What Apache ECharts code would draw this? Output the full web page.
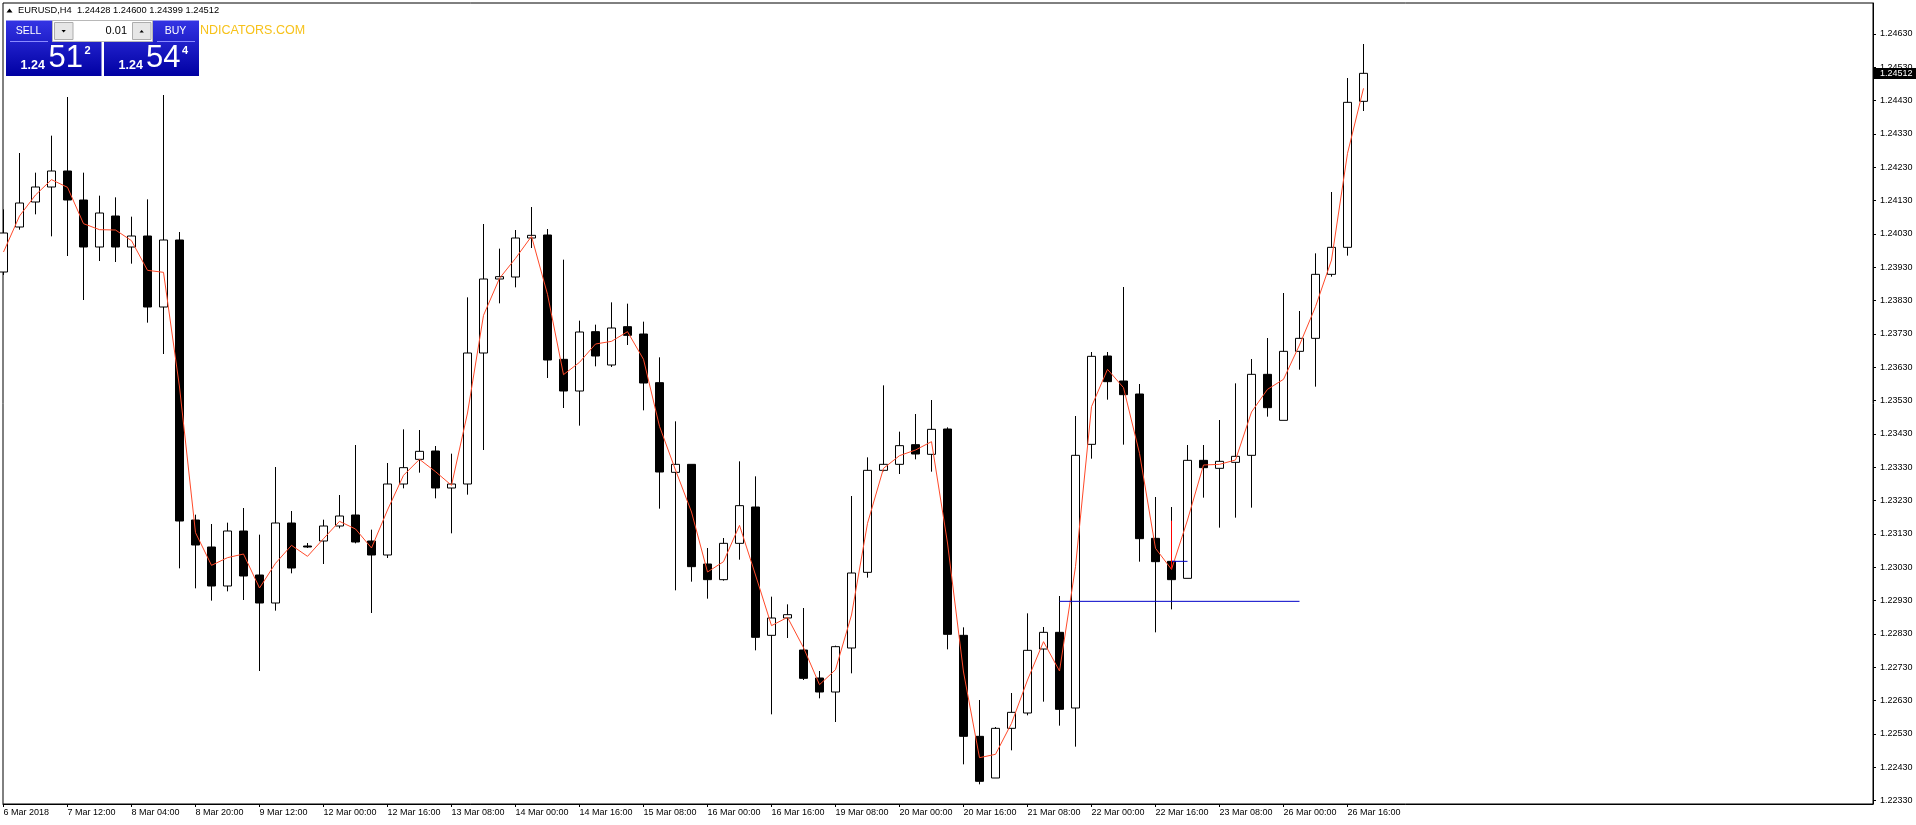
<!DOCTYPE html>
<html><head><meta charset="utf-8">
<script src="https://cdn.jsdelivr.net/npm/echarts@6/dist/echarts.min.js"></script>
<style>html,body{margin:0;padding:0;background:#fff;}#c{width:1916px;height:825px;}</style>
</head><body><div id="c"></div>
<script>
// ---------- data ----------
const symbolTitle = 'EURUSD,H4';
const xTickLabels = ['6 Mar 2018','7 Mar 12:00','8 Mar 04:00','8 Mar 20:00','9 Mar 12:00','12 Mar 00:00','12 Mar 16:00','13 Mar 08:00','14 Mar 00:00','14 Mar 16:00','15 Mar 08:00','16 Mar 00:00','16 Mar 16:00','19 Mar 08:00','20 Mar 00:00','20 Mar 16:00','21 Mar 08:00','22 Mar 00:00','22 Mar 16:00','23 Mar 08:00','26 Mar 00:00','26 Mar 16:00'];
const barsPerLabel = 4;
const yTickValues = [1.22330,1.22430,1.22530,1.22630,1.22730,1.22830,1.22930,1.23030,1.23130,1.23230,1.23330,1.23430,1.23530,1.23630,1.23730,1.23830,1.23930,1.24030,1.24130,1.24230,1.24330,1.24430,1.24530,1.24630];

const opens = [1.23916,1.24051,1.24126,1.24171,1.24219,1.24132,1.23991,1.24084,1.23991,1.24024,
1.23811,1.24012,1.23172,1.23091,1.22974,1.23139,1.23007,1.22923,1.23163,1.23094,
1.23109,1.23154,1.23187,1.23109,1.23067,1.23280,1.23354,1.23379,1.23268,1.23280,
1.23673,1.23895,1.23901,1.24018,1.24027,1.23654,1.23559,1.23737,1.23637,1.23752,
1.23730,1.23584,1.23315,1.23339,1.23040,1.22993,1.23102,1.23211,1.22826,1.22878,
1.22782,1.22698,1.22656,1.22788,1.23015,1.23321,1.23339,1.23398,1.23369,1.23445,
1.22826,1.22523,1.22398,1.22547,1.22593,1.22785,1.22835,1.22608,1.23399,1.23664,
1.23589,1.23550,1.23117,1.23048,1.22997,1.23351,1.23327,1.23345,1.23366,1.23609,
1.23471,1.23678,1.23717,1.23909,1.23990,1.24428];
const closes = [1.24033,1.24123,1.24171,1.24219,1.24132,1.23991,1.24093,1.23991,1.24024,1.23811,
1.24012,1.23169,1.23097,1.22974,1.23139,1.23004,1.22923,1.23163,1.23028,1.23091,
1.23154,1.23184,1.23106,1.23067,1.23280,1.23329,1.23378,1.23268,1.23280,1.23673,
1.23895,1.23902,1.24018,1.24026,1.23652,1.23559,1.23736,1.23664,1.23748,1.23726,
1.23583,1.23316,1.23339,1.23032,1.22993,1.23102,1.23215,1.22820,1.22878,1.22888,
1.22697,1.22656,1.22792,1.23013,1.23321,1.23339,1.23395,1.23370,1.23444,1.22829,
1.22523,1.22388,1.22547,1.22595,1.22781,1.22835,1.22604,1.23366,1.23663,1.23587,
1.23548,1.23116,1.23047,1.22993,1.23351,1.23329,1.23348,1.23363,1.23609,1.23509,
1.23678,1.23717,1.23909,1.23990,1.24425,1.24512];
const highs = [1.24104,1.24273,1.24214,1.24325,1.24441,1.24214,1.24145,1.24140,1.24082,1.24134,
1.24447,1.24036,1.23188,1.23160,1.23164,1.23208,1.23128,1.23331,1.23199,1.23103,
1.23173,1.23247,1.23397,1.23143,1.23343,1.23444,1.23442,1.23394,1.23371,1.23840,
1.24060,1.23986,1.24042,1.24111,1.24045,1.23953,1.23770,1.23758,1.23825,1.23821,
1.23767,1.23660,1.23468,1.23339,1.23088,1.23118,1.23348,1.23303,1.22942,1.22919,
1.22908,1.22719,1.22795,1.23244,1.23360,1.23576,1.23437,1.23490,1.23532,1.23450,
1.22850,1.22632,1.22551,1.22653,1.22892,1.22851,1.22944,1.23484,1.23676,1.23676,
1.23871,1.23580,1.23241,1.23211,1.23397,1.23397,1.23472,1.23582,1.23655,1.23718,
1.23853,1.23799,1.23972,1.24156,1.24498,1.24600];
const lows = [1.23907,1.24043,1.24089,1.24023,1.23964,1.23832,1.23949,1.23946,1.23941,1.23764,
1.23670,1.23027,1.22967,1.22930,1.22958,1.22932,1.22719,1.22900,1.23012,1.23088,
1.23040,1.23147,1.23102,1.22893,1.23058,1.23267,1.23314,1.23237,1.23132,1.23248,
1.23382,1.23822,1.23870,1.23988,1.23598,1.23508,1.23455,1.23633,1.23631,1.23697,
1.23501,1.23206,1.22961,1.22987,1.22936,1.22990,1.23053,1.22781,1.22589,1.22818,
1.22692,1.22637,1.22566,1.22712,1.22999,1.23318,1.23310,1.23354,1.23317,1.22784,
1.22439,1.22379,1.22398,1.22481,1.22586,1.22627,1.22555,1.22492,1.23356,1.23533,
1.23398,1.23047,1.22835,1.22904,1.22997,1.23239,1.23149,1.23179,1.23209,1.23482,
1.23471,1.23623,1.23572,1.23902,1.23965,1.24399];
const maLine = [1.23976,1.24084,1.24147,1.24193,1.24170,1.24061,1.24043,1.24042,1.24010,1.23921,
1.23915,1.23571,1.23134,1.23036,1.23059,1.23070,1.22968,1.23042,1.23096,1.23063,
1.23116,1.23168,1.23145,1.23088,1.23202,1.23306,1.23354,1.23317,1.23276,1.23493,
1.23786,1.23897,1.23957,1.24023,1.23849,1.23608,1.23645,1.23700,1.23708,1.23737,
1.23654,1.23453,1.23322,1.23196,1.23016,1.23047,1.23156,1.23007,1.22855,1.22880,
1.22789,1.22678,1.22723,1.22887,1.23162,1.23327,1.23365,1.23382,1.23407,1.23103,
1.22716,1.22459,1.22469,1.22562,1.22692,1.22807,1.22719,1.23032,1.23512,1.23624,
1.23569,1.23372,1.23087,1.23024,1.23172,1.23337,1.23339,1.23352,1.23496,1.23564,
1.23594,1.23697,1.23812,1.23952,1.24272,1.24467];
const levelLine = [[66, 1.22928], [81, 1.22928]];
const entryLine = [[73, 1.23048], [74, 1.23048]];
const entryStick = [[73, 1.23024], [73, 1.23170]];
const lotSize = '0.01';
const bidParts = ['1.24', '51', '2'];
const askParts = ['1.24', '54', '4'];
const watermark = 'NDICATORS.COM';

// ---------- chart ----------
const FONT = "'Liberation Sans', Arial, sans-serif";
const barIndex = opens.map((_, i) => i);
const candleData = barIndex.map(i => [i, opens[i], closes[i], lows[i], highs[i]]);
const xTickPos = xTickLabels.map((_, i) => i * barsPerLabel);
const last = opens.length - 1;

const chart = echarts.init(document.getElementById('c'), null, {renderer: 'canvas'});
const option = {
  animation: false,
  backgroundColor: '#fff',
  grid: {left: 3, top: 3, right: 43, bottom: 21, show: true, borderColor: '#000', borderWidth: 1},
  xAxis: {
    type: 'value', min: -0.03125, max: 116.84375,
    axisLine: {show: true, onZero: false, lineStyle: {color: '#000', width: 1}},
    axisTick: {show: true, customValues: xTickPos, length: 3, lineStyle: {color: '#000'}},
    axisLabel: {customValues: xTickPos, formatter: v => xTickLabels[Math.round(v / barsPerLabel)],
      align: 'left', margin: 4, color: '#000', fontSize: 9, fontFamily: FONT},
    splitLine: {show: false}
  },
  yAxis: {
    type: 'value', position: 'right', min: 1.2232, max: 1.24723,
    axisLine: {show: true, onZero: false, lineStyle: {color: '#000', width: 1}},
    axisTick: {show: true, customValues: yTickValues, length: 3, lineStyle: {color: '#000'}},
    axisLabel: {customValues: yTickValues, formatter: v => v.toFixed(5), margin: 7,
      color: '#000', fontSize: 9, fontFamily: FONT},
    splitLine: {show: false}
  },
  series: [
    {type: 'candlestick', data: candleData, barWidth: 9, z: 2,
      itemStyle: {color: '#fff', color0: '#000', borderColor: '#000', borderColor0: '#000', borderWidth: 1}},
    {type: 'line', data: barIndex.map(i => [i, maLine[i]]), symbol: 'none', z: 3,
      lineStyle: {color: '#ff4a2a', width: 1}},
    {type: 'line', data: levelLine, symbol: 'none', z: 4, lineStyle: {color: '#0000c8', width: 1}},
    {type: 'line', data: entryLine, symbol: 'none', z: 4, lineStyle: {color: '#0000c8', width: 1}},
    {type: 'line', data: entryStick, symbol: 'none', z: 4, lineStyle: {color: '#ff0000', width: 1}}
  ]
};
chart.setOption(option);

const tagY = chart.convertToPixel({yAxisIndex: 0}, closes[last]);
const blueGrad = () => new echarts.graphic.LinearGradient(0, 0, 0, 1, [
  {offset: 0, color: '#3434e4'}, {offset: 1, color: '#0000a2'}]);
const headerText = symbolTitle + '  ' + [opens[last], highs[last], lows[last], closes[last]].map(v => v.toFixed(5)).join(' ');
const mid = {verticalAlign: 'middle'};

chart.setOption({graphic: [
  // header
  {type: 'polygon', shape: {points: [[6.5, 12.5], [12.5, 12.5], [9.5, 8.5]]}, style: {fill: '#000'}, z: 50},
  {type: 'text', x: 18, y: 10.5, style: Object.assign({text: headerText, fill: '#000', font: '9.3px ' + FONT}, mid), z: 50},
  // watermark
  {type: 'text', x: 200, y: 31, style: Object.assign({text: watermark, fill: '#f7c21a', font: '12.5px ' + FONT}, mid), z: 50},
  // sell block
  {type: 'rect', shape: {x: 6, y: 20.5, width: 95.5, height: 55.5}, style: {fill: blueGrad()}, z: 51},
  // buy block
  {type: 'rect', shape: {x: 104, y: 20.5, width: 95, height: 55.5}, style: {fill: blueGrad()}, z: 51},
  // lot input
  {type: 'rect', shape: {x: 52.5, y: 20.5, width: 100, height: 21}, style: {fill: '#fff', stroke: '#b8b8b8', lineWidth: 1}, z: 52},
  {type: 'rect', shape: {x: 54.5, y: 22.5, width: 18.5, height: 17}, style: {fill: '#e6e6e6', stroke: '#adadad', lineWidth: 1}, z: 53},
  {type: 'rect', shape: {x: 132.5, y: 22.5, width: 18.5, height: 17}, style: {fill: '#e6e6e6', stroke: '#adadad', lineWidth: 1}, z: 53},
  {type: 'polygon', shape: {points: [[61.5, 30], [65.8, 30], [63.65, 32.5]]}, style: {fill: '#000'}, z: 54},
  {type: 'polygon', shape: {points: [[139.5, 32.5], [143.8, 32.5], [141.65, 30]]}, style: {fill: '#000'}, z: 54},
  {type: 'text', x: 127, y: 31, style: Object.assign({text: lotSize, fill: '#000', font: '11px ' + FONT, align: 'right'}, mid), z: 54},
  // SELL / BUY captions
  {type: 'text', x: 28.5, y: 31, style: Object.assign({text: 'SELL', fill: '#fff', font: '10.5px ' + FONT, align: 'center'}, mid), z: 54},
  {type: 'text', x: 175.5, y: 31, style: Object.assign({text: 'BUY', fill: '#fff', font: '10.5px ' + FONT, align: 'center'}, mid), z: 54},
  {type: 'line', shape: {x1: 10, y1: 41.5, x2: 48, y2: 41.5}, style: {stroke: '#8a8aff', lineWidth: 1}, z: 54},
  {type: 'line', shape: {x1: 157, y1: 41.5, x2: 195, y2: 41.5}, style: {stroke: '#8a8aff', lineWidth: 1}, z: 54},
  // bid price
  {type: 'text', x: 20.5, y: 65.5, style: Object.assign({text: bidParts[0], fill: '#fff', font: 'bold 12.5px ' + FONT}, mid), z: 54},
  {type: 'text', x: 48.5, y: 58.5, style: Object.assign({text: bidParts[1], fill: '#fff', font: '31px ' + FONT}, mid), z: 54},
  {type: 'text', x: 84.5, y: 51, style: Object.assign({text: bidParts[2], fill: '#fff', font: 'bold 11px ' + FONT}, mid), z: 54},
  // ask price
  {type: 'text', x: 118.5, y: 65.5, style: Object.assign({text: askParts[0], fill: '#fff', font: 'bold 12.5px ' + FONT}, mid), z: 54},
  {type: 'text', x: 146, y: 58.5, style: Object.assign({text: askParts[1], fill: '#fff', font: '31px ' + FONT}, mid), z: 54},
  {type: 'text', x: 182, y: 51, style: Object.assign({text: askParts[2], fill: '#fff', font: 'bold 11px ' + FONT}, mid), z: 54},
  // current price tag
  {type: 'rect', shape: {x: 1873, y: Math.round(tagY) - 5, width: 43, height: 11}, style: {fill: '#000'}, z: 60},
  {type: 'text', x: 1880, y: tagY + 0.5, style: Object.assign({text: closes[last].toFixed(5), fill: '#fff', font: '9px ' + FONT}, mid), z: 61}
]});
</script>
</body></html>
